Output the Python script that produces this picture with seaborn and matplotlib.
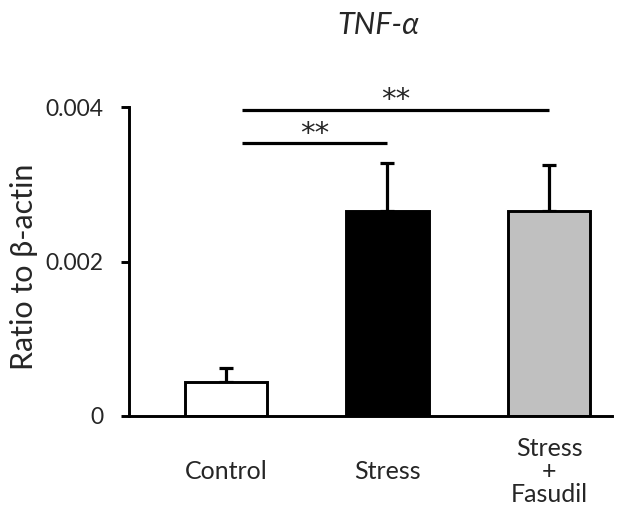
import matplotlib
matplotlib.use("Agg")
import matplotlib.pyplot as plt
import seaborn as sns
import pandas as pd
import numpy as np

categories = ["Control", "Stress", "Stress\n+\nFasudil"]
means = [0.00044, 0.00266, 0.00265]
errors = [0.00018, 0.00062, 0.00060]
bar_colors = ["#ffffff", "#000000", "#c0c0c0"]
yticks = [0, 0.002, 0.004]
ytick_labels = ["0", "0.002", "0.004"]
# significance brackets: (from index, to index, y value, label)
sig_pairs = [(0, 1, 0.00353, "**"), (0, 2, 0.00396, "**")]
title = "TNF-\u03b1"
ylabel = "Ratio to \u03b2-actin"

sns.set_theme(style="white")
plt.rcParams["font.family"] = ["Lato", "DejaVu Sans"]

df = pd.DataFrame({"group": categories, "value": means})

fig = plt.figure(figsize=(6.41, 5.05), dpi=100)
ax = fig.add_axes([129 / 641, 1 - 416 / 505, (612 - 129) / 641, (416 - 107) / 505])

sns.barplot(data=df, x="group", y="value", hue="group", palette=bar_colors,
            order=categories, hue_order=categories, legend=False,
            edgecolor="black", linewidth=2.1, width=0.51, errorbar=None, ax=ax,
            saturation=1)
xs = np.arange(len(categories))
ax.errorbar(xs, means, yerr=[np.zeros(len(errors)), errors], fmt="none",
            ecolor="black", elinewidth=2.3, capsize=5, capthick=2.3, zorder=1)
for p in ax.patches:
    p.set_zorder(2)

ax.set_xlim(-0.6, 2.39)
ax.set_ylim(0, 0.004)
ax.set_yticks(yticks)
ax.set_yticklabels(ytick_labels)
ax.set_xlabel("")
ax.set_ylabel("")
for s in ["top", "right"]:
    ax.spines[s].set_visible(False)
for s in ["left", "bottom"]:
    ax.spines[s].set_linewidth(2.1)
    ax.spines[s].set_color("black")
ax.tick_params(axis="y", direction="out", length=5.5, width=2.1, color="black",
               labelsize=16.5, pad=13, left=True)
ax.tick_params(axis="x", length=0, labelsize=18, pad=40)
for lab in ax.get_xticklabels():
    lab.set_va("center")
    lab.set_linespacing(1.0)

for i, j, y, txt in sig_pairs:
    ax.plot([i + 0.1, j], [y, y], color="black", lw=2.3, clip_on=False,
            solid_capstyle="butt")
    ax.annotate(txt, xy=((i + 0.1 + j) / 2, y), xytext=(0, 7),
                textcoords="offset points", ha="center", va="center",
                fontsize=21, family="DejaVu Sans", annotation_clip=False)

fig.text(378 / 641, 1 - 25 / 505, title, ha="center", va="center",
         fontsize=22, style="italic")
fig.text(24 / 641, 1 - 267 / 505, ylabel, ha="center", va="center",
         rotation=90, fontsize=22)

fig.savefig("out.png", dpi=100)
